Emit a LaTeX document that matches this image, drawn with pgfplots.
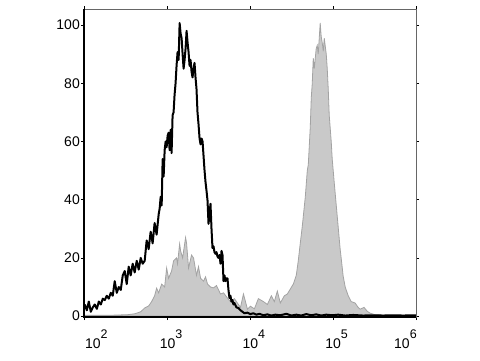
\documentclass[border=0pt]{standalone}
\usepackage{pgfplots}
\pgfplotsset{compat=1.18}
\usepackage{fontspec}
\setmainfont{Liberation Sans}
\newcommand{\ttt}[1]{10\rlap{\raisebox{10pt}{\fontsize{12.5}{13}\selectfont #1}}}
\pgfplotstableread{
x y
2.000 0.3
2.313 0.3
2.518 0.5
2.602 0.8
2.675 1.5
2.723 2.8
2.771 3.5
2.807 5
2.843 7
2.867 9.6
2.892 8
2.928 11
2.964 10
2.988 16.5
3.012 13
3.048 15.5
3.072 19
3.108 20
3.120 18
3.145 24.8
3.157 22.4
3.181 20
3.217 27
3.229 25
3.253 16.5
3.289 21
3.313 20
3.349 14
3.373 17
3.398 13
3.434 12
3.458 13.5
3.482 11
3.518 10
3.554 9.7
3.590 10.5
3.639 7.6
3.675 8
3.723 6.2
3.759 5
3.807 6
3.843 4.5
3.880 3
3.916 7.6
3.964 2.4
4.000 3.4
4.048 2.5
4.096 6
4.157 5
4.205 4
4.253 7
4.289 5
4.325 8.6
4.361 4.5
4.410 7
4.446 7.6
4.482 9.3
4.518 11
4.554 14
4.578 19
4.602 25
4.627 31
4.663 41
4.687 50
4.699 52
4.723 65
4.735 75
4.747 80
4.759 88.6
4.771 85
4.795 92
4.807 93
4.819 90
4.843 100.7
4.855 96
4.867 94
4.880 91
4.892 95.5
4.916 90
4.928 85
4.940 78
4.952 69
4.976 60
4.988 54
5.012 46
5.048 34.5
5.084 23
5.096 20
5.120 13.8
5.145 10
5.181 7
5.217 5
5.265 4.5
5.301 3
5.325 2.4
5.373 3
5.410 1.7
5.446 1
5.506 0.5
5.627 0.3
6.000 0.3
}\graydata
\pgfplotstableread{
x y
2.000 4
2.024 2
2.048 5
2.072 1.5
2.096 3
2.120 4
2.145 2.5
2.169 5
2.193 4
2.217 6
2.241 5.5
2.265 7
2.289 6
2.313 8
2.337 7
2.361 12
2.386 8
2.410 10
2.434 9
2.458 14
2.482 15.5
2.506 11
2.530 17
2.554 14
2.578 18
2.602 15
2.627 19
2.651 16
2.675 20
2.699 18
2.723 19
2.747 26
2.771 23
2.795 29
2.819 25
2.843 32
2.867 28
2.892 35
2.904 37
2.916 41
2.928 38
2.940 54
2.952 48
2.964 57
2.976 60
2.988 58
3.000 62
3.012 63
3.024 57
3.036 64
3.048 56
3.060 69
3.072 70
3.084 76
3.096 80
3.108 86
3.120 90.7
3.133 88
3.145 100.7
3.157 97
3.169 95.5
3.181 90
3.193 85
3.205 88
3.217 92
3.229 98
3.241 94
3.253 90.7
3.265 86
3.277 88
3.289 84
3.301 82
3.313 85
3.325 87
3.337 82
3.349 78
3.361 70
3.373 66
3.386 61
3.398 59
3.410 61
3.422 60
3.434 55
3.446 50
3.458 46
3.470 43
3.482 39.7
3.494 31.7
3.506 35
3.518 38.6
3.530 30
3.542 23.4
3.554 24
3.566 22
3.578 21.4
3.590 22
3.602 20.5
3.614 20
3.627 21
3.639 18
3.651 22.4
3.663 21
3.675 12
3.687 14
3.699 12
3.711 13
3.723 13
3.735 9
3.747 6.2
3.759 7
3.771 5
3.783 5.5
3.795 4
3.807 4.5
3.831 3
3.855 2.8
3.880 2
3.904 1.5
3.928 1
3.964 1.2
4.000 0.7
4.036 1
4.072 0.5
4.108 0.8
4.157 0.3
4.205 0.6
4.253 0.2
4.301 0.5
4.361 0.3
4.434 0.8
4.494 0.2
4.554 0.5
4.614 0.2
4.675 0.7
4.735 0.3
4.795 0.6
4.855 0.2
4.916 0.5
4.988 0.3
5.060 0.5
5.145 0.2
5.241 0.4
5.361 0.2
5.482 0.3
5.602 0.2
5.723 0.3
5.843 0.2
6.000 0.3
}\blackdata
\begin{document}
\begin{tikzpicture}
\useasboundingbox (0,0) rectangle (480pt,360pt);
\begin{axis}[
  at={(84pt,43pt)}, anchor=south west,
  width=332pt, height=308pt, scale only axis,
  xmin=1.99, xmax=6.0, ymin=-0.3, ymax=105.5,
  xtick={2,3,4,5,6},
  xticklabels={\hspace*{16pt}\ttt{2},\ttt{3},\ttt{4},\ttt{5},\ttt{6}\hspace*{28pt}},
  ytick={0,20,40,60,80,100},
  tick align=outside, major tick length=3pt,
  tick style={black, line width=0.8pt},
  axis line style={draw=black!60, line width=0.8pt},
  /pgf/number format/assume math mode=true,
  tick label style={font=\fontsize{14}{16}\selectfont},
  yticklabel style={inner sep=1pt},
  xticklabel style={inner sep=0pt, anchor=base, yshift=-28pt},
  clip=false,
]
\addplot[fill=black!21, draw=black!36, line width=0.8pt] table[x=x,y=y]{\graydata} \closedcycle;
\addplot[black, line width=2pt, line join=round] table[x=x,y=y]{\blackdata};
\draw[black, line width=1.4pt] (rel axis cs:0,1) -- (rel axis cs:0,0) -- (rel axis cs:1,0);
\end{axis}
\end{tikzpicture}
\end{document}
